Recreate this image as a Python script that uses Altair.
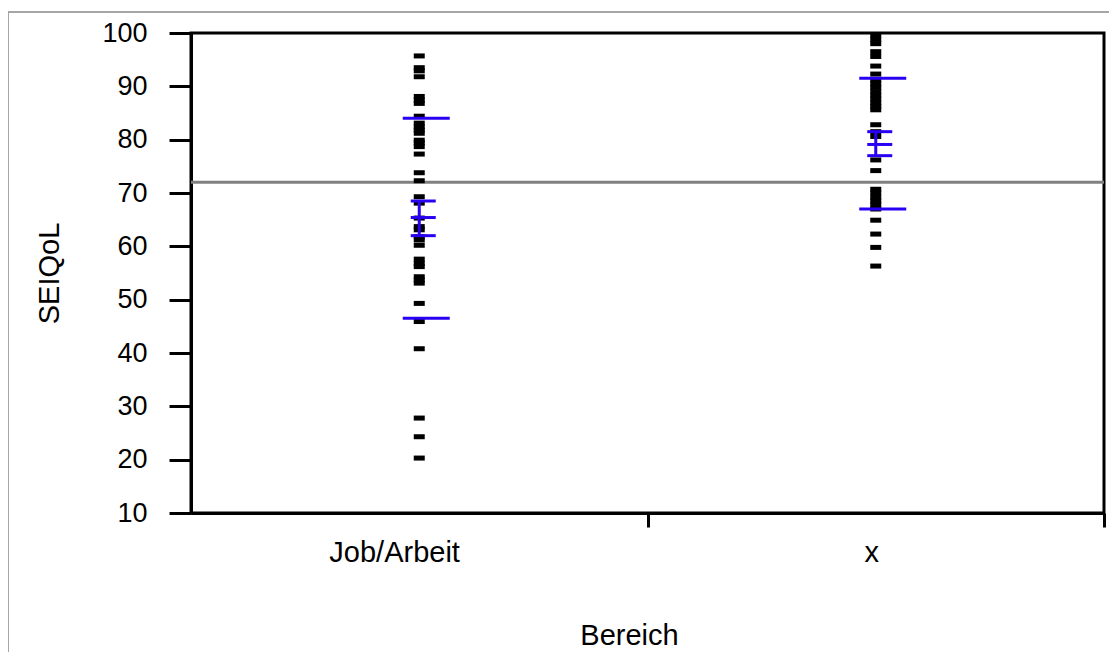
import altair as alt
import pandas as pd

# ---------------- data ----------------
categories = ["Job/Arbeit", "x"]
cat_pos = [0.5, 1.5]          # column positions on the x scale
label_pos = [0.445, 1.49]     # where the category labels sit
boundary_ticks = [1, 2]       # tick marks on the x axis

job_values = [95.7, 93.5, 92.9, 91.8, 88.1, 87.4, 86.8, 84.4, 83.1, 82.4,
              81.8, 81.2, 79.9, 79.4, 78.7, 77.3, 73.8, 72.3, 69.3, 68.1,
              65.3, 63.7, 63.1, 61.8, 61.2, 60.2, 57.6, 56.8, 56.2, 54.3,
              53.7, 53.1, 49.3, 45.9, 40.8, 27.8, 24.3, 20.3]
x_values = [99.6, 98.8, 98.0, 96.5, 95.6, 93.8, 92.3, 91.2, 90.5, 89.8,
            89.0, 88.3, 87.6, 86.9, 86.2, 85.6, 82.8, 81.5, 80.6, 76.2,
            74.2, 70.7, 70.0, 69.2, 68.5, 67.8, 67.0, 64.9, 62.3, 59.8,
            56.3]

sd_upper = [84.0, 91.5]
sd_lower = [46.5, 67.0]
ci_upper = [68.5, 81.5]
means = [65.4, 79.1]
ci_lower = [62.0, 77.0]
reference_value = [72]
y_ticks = [10, 20, 30, 40, 50, 60, 70, 80, 90, 100]

# ---------------- tables ----------------
points_df = pd.DataFrame({
    "Bereich": [categories[0]] * len(job_values) + [categories[1]] * len(x_values),
    "pos": [cat_pos[0]] * len(job_values) + [cat_pos[1]] * len(x_values),
    "value": job_values + x_values,
})
summary_df = pd.DataFrame({
    "Bereich": categories, "pos": cat_pos,
    "sd_upper": sd_upper, "sd_lower": sd_lower,
    "ci_upper": ci_upper, "mean": means, "ci_lower": ci_lower,
})
ref_df = pd.DataFrame({"ref": reference_value})
frame_df = pd.DataFrame({"f": [0]})

FONT = "Liberation Sans"
BLUE = "#2a00f5"

label_map = " : ".join(
    [f"datum.value == {p} ? '{c}'" for p, c in zip(label_pos, categories)] + ["''"]
)
tick_test = " || ".join(f"datum.value == {t}" for t in boundary_ticks)

x_scale = alt.Scale(domain=[0, 2], nice=False, zero=False)
y_scale = alt.Scale(domain=[10, 100], nice=False, zero=False)

x_axis = alt.Axis(
    values=label_pos + boundary_ticks,
    labelExpr=label_map,
    tickOpacity={"condition": {"test": tick_test, "value": 1}, "value": 0},
    tickSize=14, tickWidth=3, tickColor="black",
    domainWidth=3, domainColor="black",
    labelFont=FONT, labelFontSize=29, labelColor="black",
    labelPadding=34, labelBaseline="alphabetic", labelFlush=False,
    labelOverlap=False,
    grid=False,
    title="Bereich", titleFont=FONT, titleFontSize=29, titleFontWeight="normal",
    titleColor="black", titleX=438, titleY=131, titleBaseline="alphabetic",
    titleAlign="center",
)
y_axis = alt.Axis(
    values=y_ticks,
    tickSize=22, tickWidth=3, tickColor="black",
    domainWidth=3, domainColor="black",
    labelFont=FONT, labelFontSize=27, labelColor="black", labelPadding=22,
    grid=False,
    title="SEIQoL", titleFont=FONT, titleFontSize=29, titleFontWeight="normal",
    titleColor="black", titlePadding=37,
)


def X(field):
    return alt.X(f"{field}:Q", scale=x_scale, axis=x_axis)


def Y(field):
    return alt.Y(f"{field}:Q", scale=y_scale, axis=y_axis)


frame = alt.Chart(frame_df).mark_rect(
    filled=False, stroke="#a6a6a6", strokeWidth=2
).encode(
    x=alt.value(-183), x2=alt.value(1300), y=alt.value(-21), y2=alt.value(900)
)

ref_line = alt.Chart(ref_df).mark_rule(color="#808080", strokeWidth=3).encode(
    y=Y("ref")
)

points = alt.Chart(points_df).mark_tick(
    orient="horizontal", color="black", size=11, thickness=5, opacity=1
).encode(x=X("pos"), y=Y("value"))

connector = alt.Chart(summary_df).mark_rule(color=BLUE, strokeWidth=3).encode(
    x=X("pos"), y=Y("ci_lower"), y2="ci_upper:Q"
)

sd_ticks = alt.Chart(summary_df).transform_fold(
    ["sd_upper", "sd_lower"], as_=["kind", "v"]
).mark_tick(orient="horizontal", color=BLUE, size=47, thickness=3, xOffset=7,
            opacity=1).encode(x=X("pos"), y=Y("v"))

ci_ticks = alt.Chart(summary_df).transform_fold(
    ["ci_upper", "mean", "ci_lower"], as_=["kind", "v"]
).mark_tick(orient="horizontal", color=BLUE, size=25, thickness=3, xOffset=4,
            opacity=1).encode(x=X("pos"), y=Y("v"))

chart = alt.layer(frame, ref_line, points, connector, sd_ticks, ci_ticks).properties(
    width=913, height=480,
    autosize="none",
    padding={"left": 183, "top": 25, "right": 5, "bottom": 139},
    background="white",
).configure_view(stroke="black", strokeWidth=3)

chart.save("out.html", embed_options={"renderer": "svg", "actions": False})
